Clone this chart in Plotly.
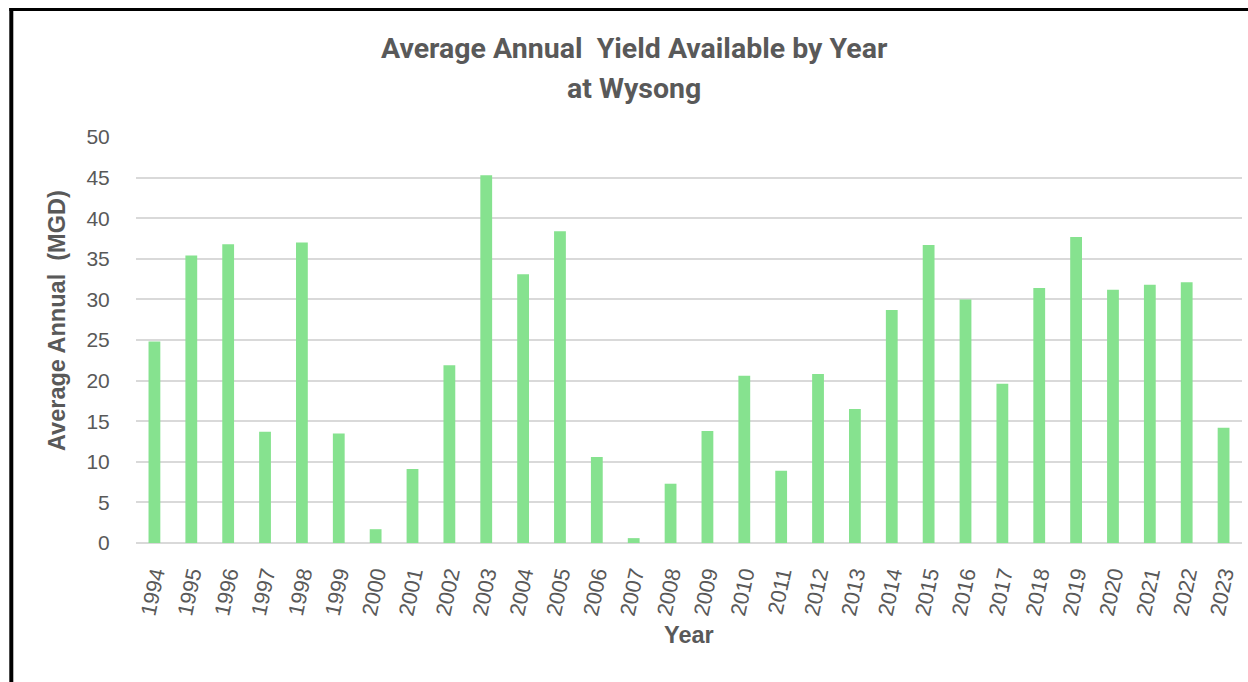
import plotly.graph_objects as go

years = [str(y) for y in range(1994, 2024)]
values = [24.8, 35.4, 36.8, 13.7, 37.0, 13.5, 1.7, 9.1, 21.9, 45.3,
          33.1, 38.4, 10.6, 0.6, 7.3, 13.8, 20.6, 8.9, 20.8, 16.5,
          28.7, 36.7, 30.0, 19.6, 31.4, 37.7, 31.2, 31.8, 32.1, 14.2]
y_ticks = [0, 5, 10, 15, 20, 25, 30, 35, 40, 45, 50]
title_lines = ["Average Annual  Yield Available by Year", "at Wysong"]
x_title = "Year"
y_title = "Average Annual  (MGD)"

W, H = 1248, 682
L, R, T, B = 136, 6, 137, 139
pw = W - L - R
ph = H - T - B

def px_x(p):
    return (p - L) / pw

def px_y(p):
    return (H - B - p) / ph

grey = "#595959"
fig = go.Figure(go.Bar(x=years, y=values, marker=dict(color="#86e28f", line=dict(width=0))))

annotations = [
    dict(text="<b>" + title_lines[0] + "</b>", x=px_x(634), y=px_y(48)),
    dict(text="<b>" + title_lines[1] + "</b>", x=px_x(634), y=px_y(88)),
]
for a in annotations:
    a.update(xref="paper", yref="paper", xanchor="center", yanchor="middle", showarrow=False,
             font=dict(family="Roboto, sans-serif", size=28.5, color=grey))
annotations.append(dict(text="<b>" + x_title + "</b>", x=px_x(689), y=px_y(635), xref="paper", yref="paper",
                        xanchor="center", yanchor="middle", showarrow=False,
                        font=dict(family="Liberation Sans, Arial, sans-serif", size=23.5, color=grey)))
annotations.append(dict(text="<b>" + y_title + "</b>", x=px_x(57), y=px_y(321), xref="paper", yref="paper",
                        xanchor="center", yanchor="middle", showarrow=False, textangle=-90,
                        font=dict(family="Liberation Sans, Arial, sans-serif", size=23.5, color=grey)))

fig.update_layout(
    width=W, height=H,
    margin=dict(l=L, r=R, t=T, b=B, pad=0),
    paper_bgcolor="white", plot_bgcolor="white",
    bargap=0.68,
    showlegend=False,
    font=dict(family="Liberation Sans, Arial, sans-serif", color=grey, size=21),
    xaxis=dict(
        type="category", tickangle=-78, showgrid=False, showline=False,
        ticks="outside", ticklen=9, tickcolor="rgba(0,0,0,0)",
        tickfont=dict(size=21.5, color=grey),
    ),
    yaxis=dict(
        range=[0, 50], tickvals=y_ticks, showgrid=True, gridcolor="#d9d9d9", gridwidth=1.5,
        zeroline=True, zerolinecolor="#d9d9d9", zerolinewidth=1.5, showline=False,
        ticks="outside", ticklen=21, tickcolor="rgba(0,0,0,0)",
        tickfont=dict(size=21, color=grey),
    ),
    annotations=annotations,
    shapes=[
        dict(type="line", xref="paper", yref="paper", x0=px_x(11.3), x1=px_x(11.3),
             y0=px_y(H + 5), y1=px_y(8), line=dict(color="black", width=4)),
        dict(type="line", xref="paper", yref="paper", x0=px_x(9.3), x1=px_x(W + 5),
             y0=px_y(9.5), y1=px_y(9.5), line=dict(color="black", width=3)),
    ],
)

fig.write_html("out.html")
